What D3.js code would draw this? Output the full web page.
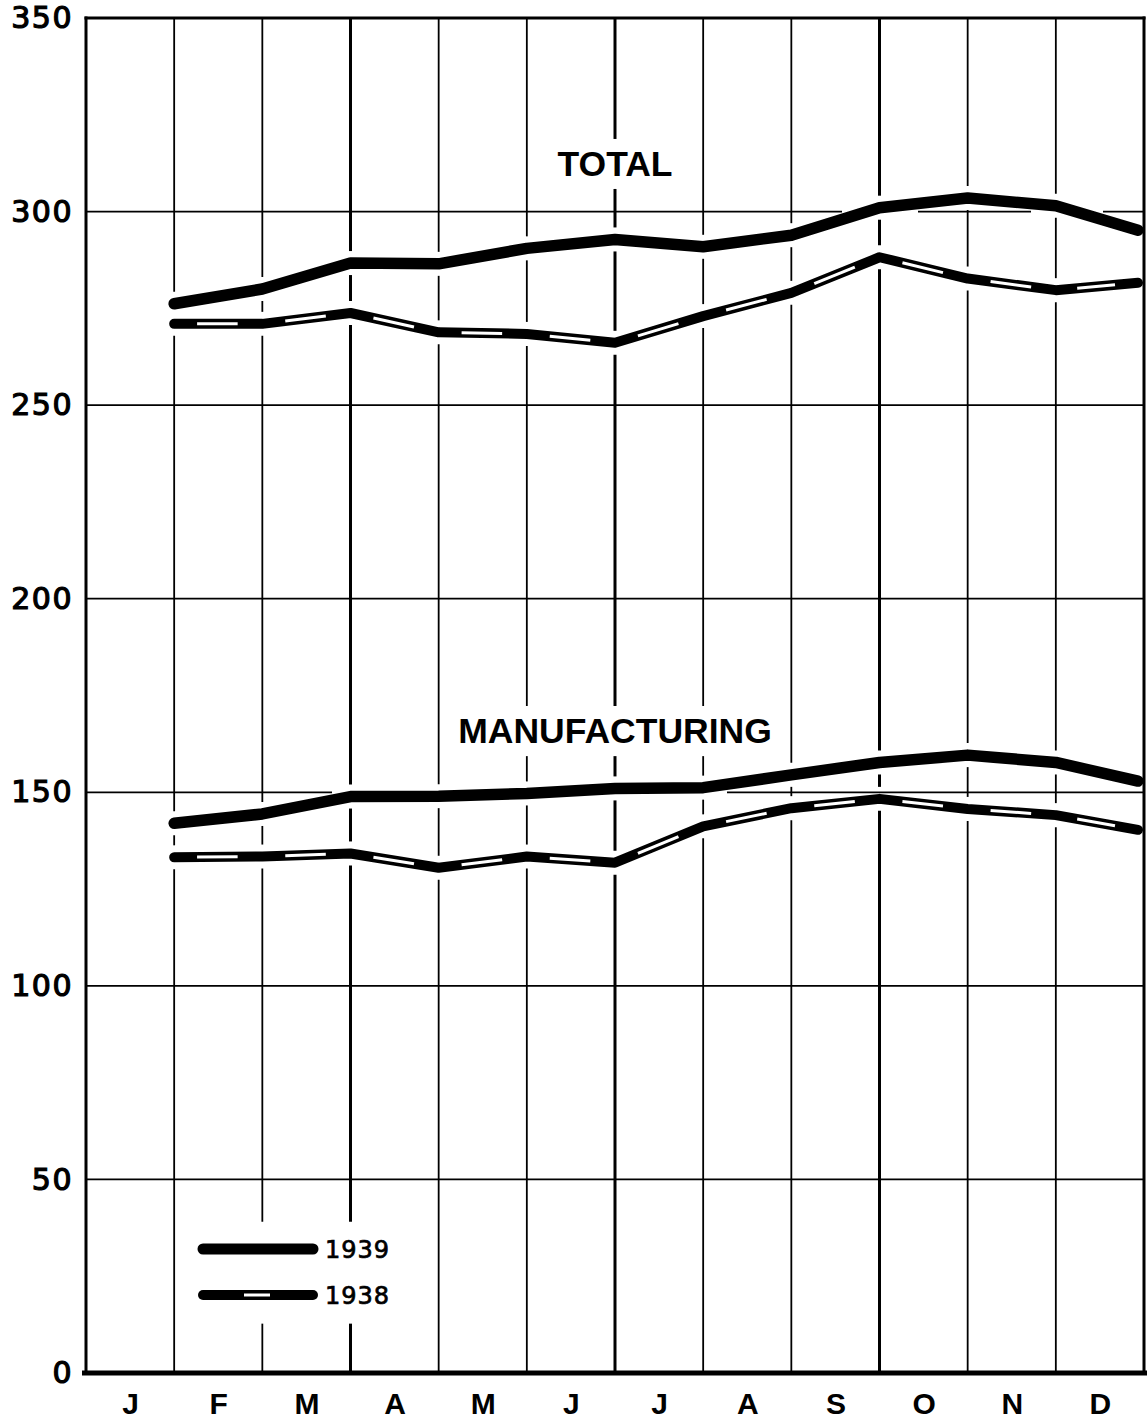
<!DOCTYPE html>
<html>
<head>
<meta charset="utf-8">
<script src="https://cdn.jsdelivr.net/npm/d3@7"></script>
<style>
  html, body { margin: 0; padding: 0; background: #fff; }
  svg { display: block; }
</style>
</head>
<body>
<svg id="chart" width="1148" height="1419"></svg>
<script>
// Monthly values, plotted at the end of each month.
const months = ["J", "F", "M", "A", "M", "J", "J", "A", "S", "O", "N", "D"];
const yTicks = [0, 50, 100, 150, 200, 250, 300, 350];
const total1939 = [276.2, 280.0, 286.7, 286.5, 290.5, 292.8, 290.9, 293.9, 301.0, 303.5, 301.5, 295.2];
const total1938 = [271.0, 271.0, 273.8, 268.8, 268.4, 266.1, 273.0, 279.0, 288.2, 282.7, 279.7, 281.6];
const mfg1939 = [142.0, 144.4, 148.9, 149.0, 149.7, 151.0, 151.2, 154.5, 157.7, 159.6, 157.7, 152.9];
const mfg1938 = [133.2, 133.4, 134.2, 130.5, 133.4, 131.8, 141.2, 145.9, 148.3, 145.7, 144.1, 140.3];
const yearLabels = ["1939", "1938"];
const groupLabels = ["TOTAL", "MANUFACTURING"];

const svg = d3.select("#chart");
const plotL = 86, plotR = 1144, plotT = 18, plotB = 1373;

const x = d3.scaleLinear().domain([0, 12]).range([plotL, plotR]);
const y = d3.scaleLinear().domain([0, 350]).range([plotB, plotT]);

// x position of the point for month i (end of that month); the last one
// stops just short of the frame so its round cap stays inside.
const px = i => x(i + 1) - (i === 11 ? 6 : 0);

const series = [
  { values: total1939, year: 0 },
  { values: total1938, year: 1 },
  { values: mfg1939, year: 0 },
  { values: mfg1938, year: 1 }
];

const gGrid = svg.append("g");
const gText = svg.append("g");
const gLines = svg.append("g");

// ---- labels drawn first so the grid can break around them ----
const groupText = gText.selectAll("text.group")
  .data([{ label: groupLabels[0], v: 312.5 }, { label: groupLabels[1], v: 166 }])
  .join("text")
  .attr("class", "group")
  .attr("x", x(6))
  .attr("y", d => y(d.v))
  .attr("dy", "0.36em")
  .attr("text-anchor", "middle")
  .attr("font-family", "Liberation Sans, Arial, sans-serif")
  .attr("font-weight", "bold")
  .attr("font-size", 35.5)
  .attr("fill", "#000")
  .text(d => d.label);

// Legend
const legendX0 = 203, legendX1 = 313, legendYs = [1249, 1295];
const legend = gText.append("g");
legendYs.forEach((ly, k) => {
  legend.append("line")
    .attr("x1", legendX0).attr("x2", legendX1)
    .attr("y1", ly).attr("y2", ly)
    .attr("stroke", "#000").attr("stroke-width", k === 0 ? 11 : 10)
    .attr("stroke-linecap", "round");
  if (k === 1) {
    legend.append("line")
      .attr("x1", 244).attr("x2", 270)
      .attr("y1", ly).attr("y2", ly)
      .attr("stroke", "#fff").attr("stroke-width", 3);
  }
  legend.append("text")
    .attr("x", 325).attr("y", ly)
    .attr("dy", "0.36em")
    .attr("font-family", "DejaVu Sans, sans-serif")
    .attr("font-size", 24)
    .attr("letter-spacing", 1)
    .attr("fill", "#000")
    .attr("stroke", "#000").attr("stroke-width", 0.7)
    .text(yearLabels[k]);
});

// Boxes (with padding) that vertical grid lines skip
const blockers = [];
groupText.each(function () {
  const b = this.getBBox();
  blockers.push({ x0: b.x, x1: b.x + b.width, y0: b.y + 3, y1: b.y + b.height - 3, pad: 8 });
});
{
  const b = legend.node().getBBox();
  blockers.push({ x0: b.x, x1: b.x + b.width, y0: b.y, y1: b.y + b.height, pad: 14 });
}

// Subtract gap intervals from [a, b]
function segments(a, b, gaps) {
  gaps = gaps.filter(g => g[1] > a && g[0] < b).sort((p, q) => p[0] - q[0]);
  const out = [];
  let cur = a;
  gaps.forEach(g => {
    if (g[0] > cur) out.push([cur, g[0]]);
    cur = Math.max(cur, g[1]);
  });
  if (cur < b) out.push([cur, b]);
  return out;
}

// ---- vertical grid lines at month boundaries ----
d3.range(1, 12).forEach(k => {
  const lx = x(k);
  const gaps = [];
  series.forEach(s => {
    const cy = y(s.values[k - 1]);
    gaps.push([cy - 12, cy + 12]);
  });
  blockers.forEach(b => {
    if (lx > b.x0 - 2 && lx < b.x1 + 2) gaps.push([b.y0 - b.pad, b.y1 + b.pad]);
  });
  segments(plotT, plotB, gaps).forEach(([a, b]) => {
    gGrid.append("line")
      .attr("x1", lx).attr("x2", lx).attr("y1", a).attr("y2", b)
      .attr("stroke", "#000")
      .attr("stroke-width", k % 3 === 0 ? 3 : 1.8);
  });
});

// ---- horizontal grid lines, broken where a heavy curve runs along them ----
const heavy = series.filter(s => s.year === 0);
function curveY(vals, sx) {
  for (let i = 0; i < vals.length - 1; i++) {
    const xa = px(i), xb = px(i + 1);
    if (sx >= xa && sx <= xb) {
      const t = (sx - xa) / (xb - xa);
      return y(vals[i] + t * (vals[i + 1] - vals[i]));
    }
  }
  return null;
}
yTicks.filter(t => t > 0 && t < 350).forEach(t => {
  const ly = y(t);
  const gaps = [];
  let start = null;
  for (let sx = plotL; sx <= plotR; sx += 1) {
    const near = heavy.some(s => {
      const cy = curveY(s.values, sx);
      return cy !== null && Math.abs(cy - ly) < 8;
    });
    if (near && start === null) start = sx;
    if (!near && start !== null) { gaps.push([start, sx]); start = null; }
  }
  if (start !== null) gaps.push([start, plotR]);
  segments(plotL, plotR, gaps).forEach(([a, b]) => {
    gGrid.append("line")
      .attr("x1", a).attr("x2", b).attr("y1", ly).attr("y2", ly)
      .attr("stroke", "#000").attr("stroke-width", 1.7);
  });
});

// ---- frame ----
gGrid.append("line").attr("x1", plotL).attr("x2", plotR).attr("y1", y(350)).attr("y2", y(350))
  .attr("stroke", "#000").attr("stroke-width", 3).attr("stroke-linecap", "square");
gGrid.append("line").attr("x1", plotL).attr("x2", plotL).attr("y1", plotT).attr("y2", plotB)
  .attr("stroke", "#000").attr("stroke-width", 3).attr("stroke-linecap", "square");
gGrid.append("line").attr("x1", plotR).attr("x2", plotR).attr("y1", plotT).attr("y2", plotB)
  .attr("stroke", "#000").attr("stroke-width", 3).attr("stroke-linecap", "square");

// Bottom axis with month labels centred in each month
const xAxis = d3.axisBottom(x)
  .tickValues(d3.range(12).map(i => i + 0.5))
  .tickSize(0)
  .tickPadding(20)
  .tickFormat((d, i) => months[i]);
const gxAxis = svg.append("g").attr("transform", `translate(0,${plotB})`).call(xAxis);
gxAxis.select(".domain").attr("stroke", "#000").attr("stroke-width", 5)
  .attr("d", `M${plotL - 4},0H${plotR + 3}`);
gxAxis.selectAll("text")
  .attr("font-family", "Liberation Sans, Arial, sans-serif")
  .attr("font-weight", "bold")
  .attr("font-size", 30)
  .attr("fill", "#000");

// Left axis labels
const yAxis = d3.axisLeft(y).tickValues(yTicks).tickSize(0).tickPadding(13);
const gyAxis = svg.append("g").attr("transform", `translate(${plotL},0)`).call(yAxis);
gyAxis.select(".domain").remove();
gyAxis.selectAll("text")
  .attr("font-family", "DejaVu Sans, sans-serif")
  .attr("font-size", 30)
  .attr("letter-spacing", 1.5)
  .attr("fill", "#000")
  .attr("stroke", "#000").attr("stroke-width", 1.2);

// ---- data lines ----
const line = d3.line().x((d, i) => px(i)).y(d => y(d));
series.forEach(s => {
  gLines.append("path")
    .attr("d", line(s.values))
    .attr("fill", "none")
    .attr("stroke", "#000")
    .attr("stroke-width", s.year === 0 ? 11.5 : 10)
    .attr("stroke-linecap", "round")
    .attr("stroke-linejoin", "round");
  if (s.year === 1) {
    // white inner dash along the middle of each monthly segment
    d3.range(s.values.length - 1).forEach(i => {
      const xa = px(i), xb = px(i + 1);
      const ya = y(s.values[i]), yb = y(s.values[i + 1]);
      gLines.append("line")
        .attr("x1", xa + 0.26 * (xb - xa)).attr("y1", ya + 0.26 * (yb - ya))
        .attr("x2", xa + 0.72 * (xb - xa)).attr("y2", ya + 0.72 * (yb - ya))
        .attr("stroke", "#fff").attr("stroke-width", 3);
    });
  }
});
</script>
</body>
</html>
